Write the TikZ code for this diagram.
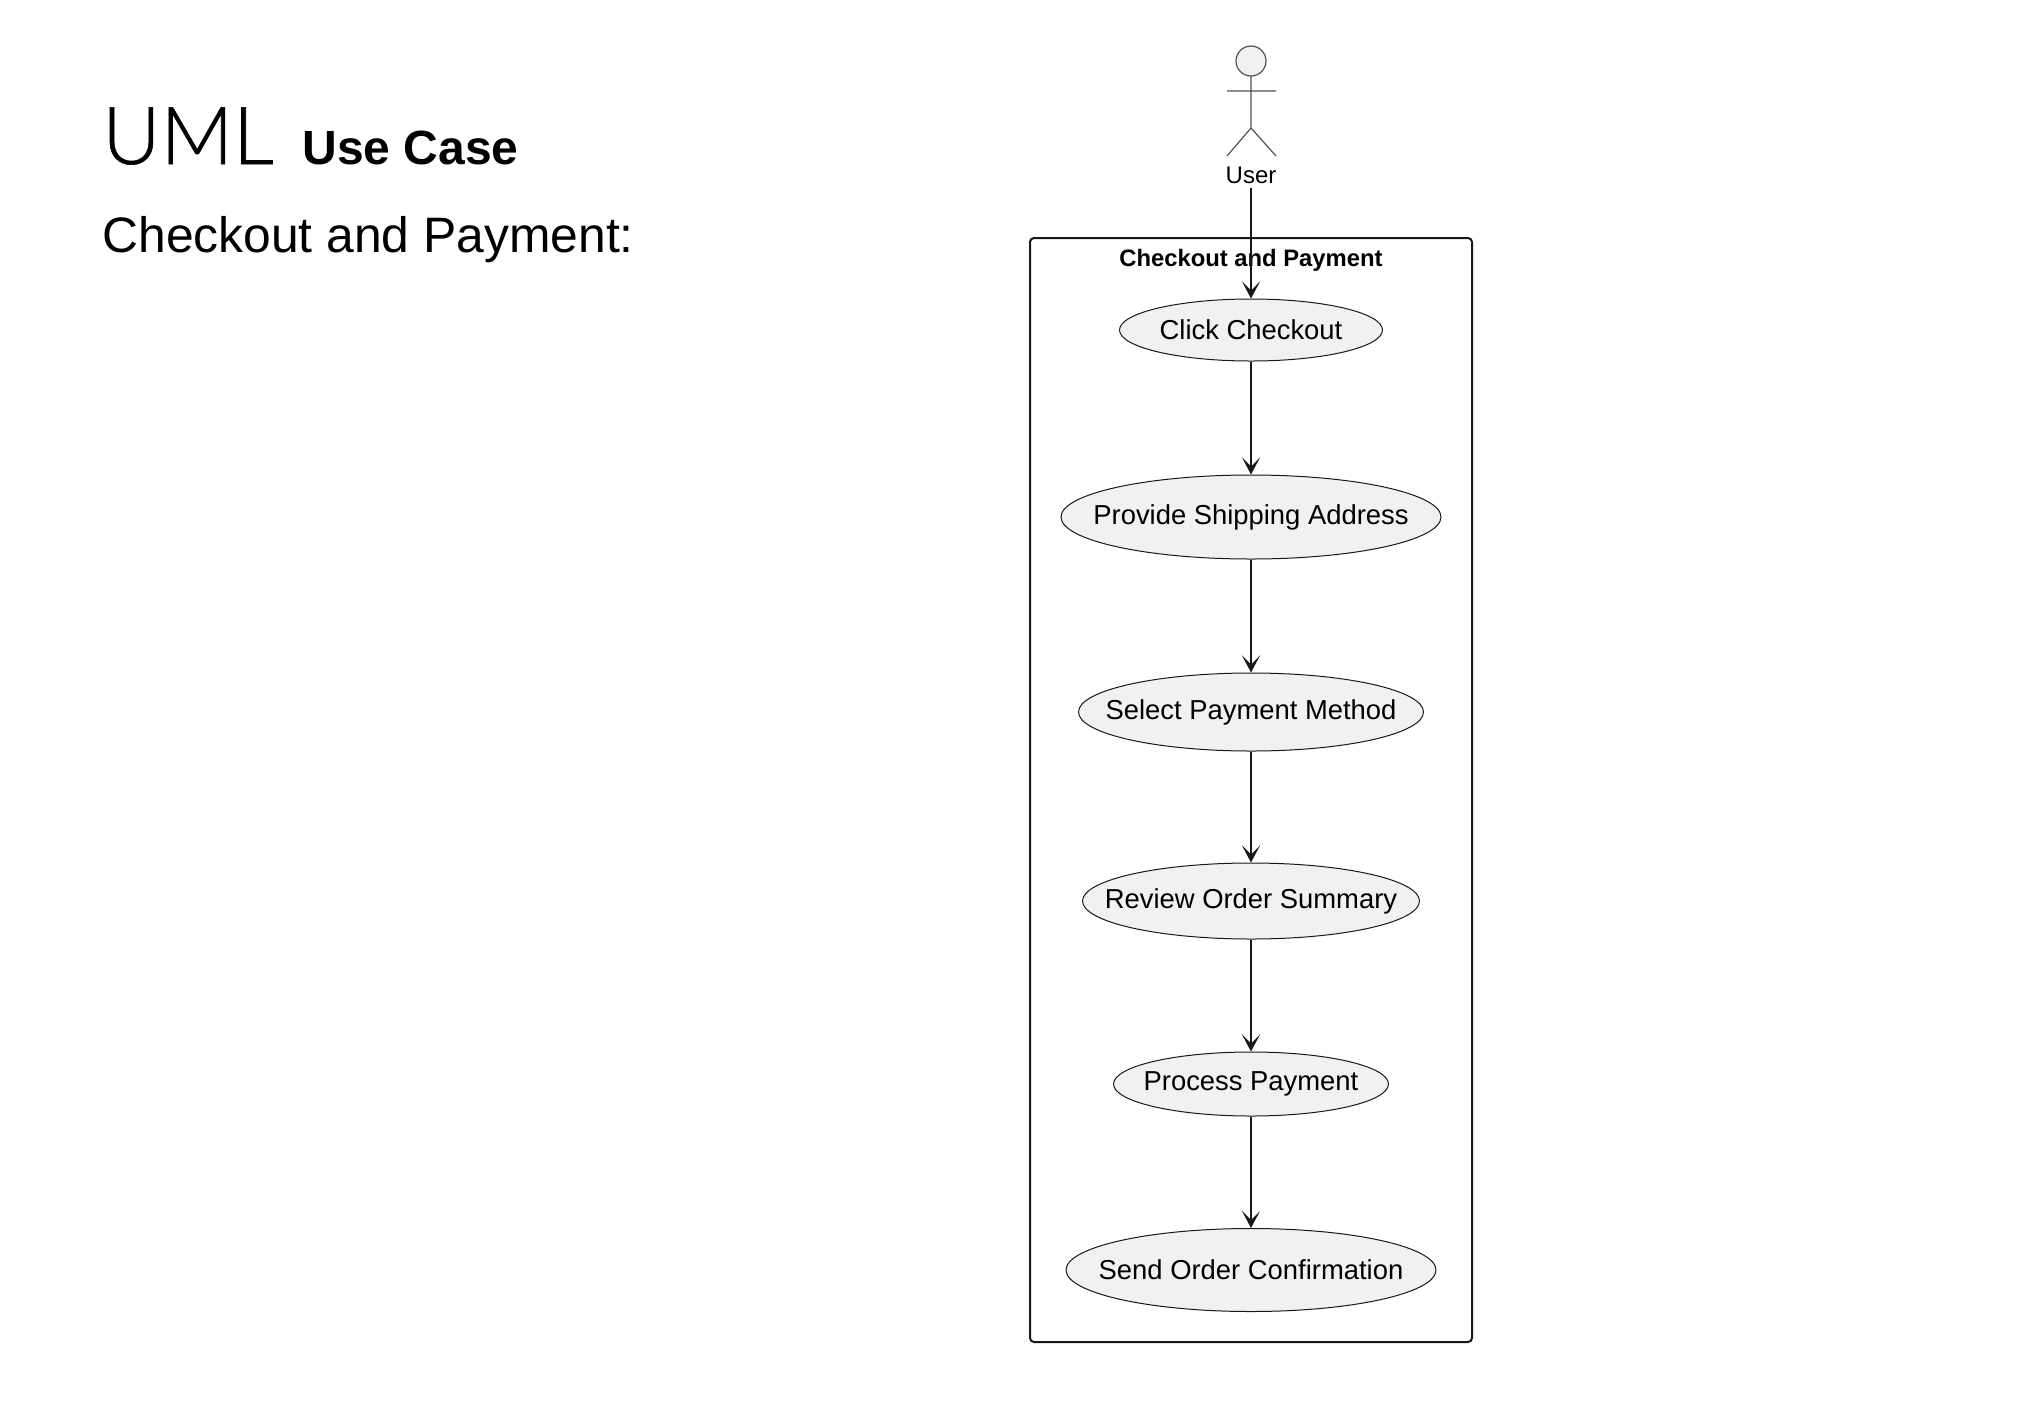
\documentclass[tikz,border=0pt]{standalone}
\usepackage{fontspec}
\setmainfont{Liberation Sans}
\newfontfamily\titlelight[FakeBold=0.8]{Lato Light}
\usetikzlibrary{shapes.geometric,arrows.meta}
\definecolor{ink}{HTML}{181818}
\definecolor{ucfill}{HTML}{F1F1F1}
\tikzset{
  usecase/.style={ellipse, draw=ink, line width=0.5pt, fill=ucfill, inner sep=0pt},
  uctext/.style={inner sep=0pt, font=\fontsize{13.7pt}{16pt}\selectfont, text=black},
  flow/.style={draw=ink, line width=1pt, -{Stealth[length=8.5pt,width=9pt,inset=4.5pt]}},
  sysbox/.style={draw=ink, line width=1pt, rounded corners=2pt, inner sep=0pt},
  stick/.style={draw=ink!75, line width=0.6pt}
}
\begin{document}
\begin{tikzpicture}[x=0.5pt,y=-0.5pt]
\useasboundingbox (0,0) rectangle (2020,1420);
\fill[white] (0,0) rectangle (2020,1420);
% headings
\node[anchor=base west, inner sep=0pt, font=\titlelight\fontsize{40pt}{44pt}\selectfont] (uml) at (102,164) {UML};
\node[anchor=base west, inner sep=0pt, font=\bfseries\fontsize{24pt}{27pt}\selectfont] (uc) at (302,164) {Use Case};
\node[anchor=base west, inner sep=0pt, font=\fontsize{24.9pt}{28pt}\selectfont] (sub) at (102,252) {Checkout and Payment:};
% system boundary
\node[sysbox, minimum width=221pt, minimum height=552pt] (box) at (1251,790) {};
\node[inner sep=0pt, anchor=base, font=\bfseries\fontsize{11.9pt}{14pt}\selectfont] (boxtitle) at (1251,266) {Checkout and Payment};
% actor
\draw[stick, fill=ucfill] (1251,61) circle[radius=7.5pt];
\draw[stick] (1251,76) -- (1251,128)
  (1227,91) -- (1276,91)
  (1227,156) -- (1251,128) -- (1276,156);
\node[inner sep=0pt, anchor=base, font=\fontsize{12pt}{14pt}\selectfont] (user) at (1251,183) {User};
% use cases
\node[usecase, minimum width=131.5pt, minimum height=31pt, label={[uctext]center:Click Checkout}] (click) at (1251,330) {};
\node[usecase, minimum width=190pt, minimum height=42pt, label={[uctext]center:Provide Shipping Address}] (ship) at (1251,517) {};
\node[usecase, minimum width=172.5pt, minimum height=39pt, label={[uctext]center:Select Payment Method}] (pay) at (1251,712) {};
\node[usecase, minimum width=168.5pt, minimum height=38pt, label={[uctext]center:Review Order Summary}] (review) at (1251,901) {};
\node[usecase, minimum width=137.5pt, minimum height=32pt, label={[uctext]center:Process Payment}] (process) at (1251,1084) {};
\node[usecase, minimum width=185pt, minimum height=41.5pt, label={[uctext]center:Send Order Confirmation}] (confirm) at (1251,1270) {};
% connectors
\draw[flow, shorten <=2pt] (user.south) -- (click.north);
\draw[flow] (click) -- (ship);
\draw[flow] (ship) -- (pay);
\draw[flow] (pay) -- (review);
\draw[flow] (review) -- (process);
\draw[flow] (process) -- (confirm);
\end{tikzpicture}
\end{document}
